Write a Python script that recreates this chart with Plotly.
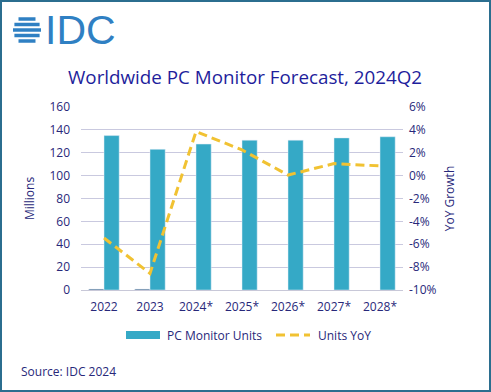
import plotly.graph_objects as go

categories = ["2022", "2023", "2024*", "2025*", "2026*", "2027*", "2028*"]
units = [135, 123, 127.6, 131, 131, 133, 134]
minor_units = [0.8, 0.8, None, None, None, None, None]
yoy = [-0.0545, -0.0855, 0.0385, 0.0225, 0.0005, 0.0105, 0.0085]
left_ticks = [0, 20, 40, 60, 80, 100, 120, 140, 160]
right_ticks = [-0.10, -0.08, -0.06, -0.04, -0.02, 0.0, 0.02, 0.04, 0.06]
right_tick_labels = ["-10%", "-8%", "-6%", "-4%", "-2%", "0%", "2%", "4%", "6%"]
series_names = ["PC Monitor Units", "Units YoY"]

W, H = 491, 392
L, R, T, B = 81, 88, 107, 102
PW, PH = W - L - R, H - T - B

def px(x):
    return (x - L) / PW

def py(y):
    return (H - B - y) / PH

navy = "#28287a"
bar_color = "#35a9c6"
line_color = "#f1c232"
font_family = "Open Sans, Noto Sans, sans-serif"

fig = go.Figure()
fig.add_trace(go.Bar(x=categories, y=minor_units, marker_color="#1f4e79",
                     showlegend=False, yaxis="y", offsetgroup="a"))
fig.add_trace(go.Bar(x=categories, y=units, name=series_names[0],
                     marker_color=bar_color, yaxis="y", offsetgroup="b",
                     showlegend=False))
fig.add_trace(go.Scatter(x=categories, y=yoy, name=series_names[1], mode="lines",
                         line=dict(color=line_color, width=3, dash="9px,5px"),
                         yaxis="y2", showlegend=False))

shapes = []
# border
shapes.append(dict(type="rect", xref="paper", yref="paper",
                   x0=px(1), x1=px(490), y0=py(1), y1=py(391),
                   line=dict(color="#2b6e8f", width=2), layer="below"))
# logo globe stripes
cx, cy = 27, 30
for dy, hw in [(-11, 8.5), (-5.5, 12.6), (0, 14), (5.5, 12.6), (11, 8.5)]:
    shapes.append(dict(type="line", xref="paper", yref="paper",
                       x0=px(cx - hw), x1=px(cx + hw), y0=py(cy + dy), y1=py(cy + dy),
                       line=dict(color="#2f80c3", width=3.5)))
# custom legend symbols
shapes.append(dict(type="rect", xref="paper", yref="paper",
                   x0=px(126), x1=px(160), y0=py(331), y1=py(339),
                   fillcolor=bar_color, line=dict(width=0)))
shapes.append(dict(type="line", xref="paper", yref="paper",
                   x0=px(276), x1=px(310), y0=py(335), y1=py(335),
                   line=dict(color=line_color, width=3, dash="9px,5px")))

annotations = [
    dict(text="IDC", xref="paper", yref="paper", x=px(43), y=py(30),
         xanchor="left", yanchor="middle", showarrow=False,
         font=dict(family="Liberation Sans, Arial, sans-serif", size=41, color="#2f80c3")),
    dict(text="Worldwide PC Monitor Forecast, 2024Q2", xref="paper", yref="paper",
         x=px(245), y=py(77), xanchor="center", yanchor="middle", showarrow=False,
         font=dict(family=font_family, size=18.8, color="#1e1e9c")),
    dict(text="Source: IDC 2024", xref="paper", yref="paper", x=px(19), y=py(371),
         xanchor="left", yanchor="middle", showarrow=False,
         font=dict(family=font_family, size=12, color=navy)),
    dict(text=series_names[0], xref="paper", yref="paper", x=px(165), y=py(335),
         xanchor="left", yanchor="middle", showarrow=False,
         font=dict(family=font_family, size=12, color=navy)),
    dict(text=series_names[1], xref="paper", yref="paper", x=px(316), y=py(335),
         xanchor="left", yanchor="middle", showarrow=False,
         font=dict(family=font_family, size=12, color=navy)),
]

fig.update_layout(
    width=W, height=H,
    margin=dict(l=L, r=R, t=T, b=B),
    paper_bgcolor="white", plot_bgcolor="white",
    font=dict(family=font_family, size=12, color=navy),
    barmode="group", bargap=0.34, bargroupgap=0,
    shapes=shapes, annotations=annotations,
    showlegend=False,
    xaxis=dict(type="category", showgrid=False, ticks="", showline=True,
               linecolor="#c8c8d8", linewidth=1, ticklabelstandoff=6,
               tickfont=dict(size=12, color=navy)),
    yaxis=dict(range=[0, 160], tickvals=left_ticks, showgrid=True,
               gridcolor="#c9c9df", gridwidth=1, zeroline=False, ticklabelstandoff=10,
               title=dict(text="Millions", font=dict(size=12, color=navy), standoff=12),
               tickfont=dict(size=12, color=navy)),
    yaxis2=dict(range=[-0.10, 0.06], tickvals=right_ticks, ticktext=right_tick_labels,
                overlaying="y", side="right", showgrid=False, zeroline=False,
                ticklabelstandoff=5,
                title=dict(text="YoY Growth", font=dict(size=12, color=navy), standoff=10),
                tickfont=dict(size=12, color=navy)),
)

fig.write_html("out.html", post_script="document.body.style.margin='0';",
               config={"displayModeBar": False})
